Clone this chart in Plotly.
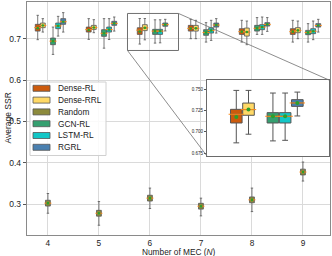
import plotly.graph_objects as go

# ---------------- data ----------------
N_MEC = [4, 5, 6, 7, 8, 9]
SERIES = ["Dense-RL", "Dense-RRL", "Random", "GCN-RL", "LSTM-RL", "RGRL"]

DENSE_RL = dict(
    hi=[0.7565, 0.7485, 0.7488, 0.7468, 0.7444, 0.7444],
    q3=[0.7347, 0.7281, 0.7265, 0.7322, 0.7242, 0.7242],
    med=[0.7267, 0.7220, 0.7207, 0.7250, 0.7170, 0.7170],
    mean=[0.7255, 0.7210, 0.7175, 0.7245, 0.7170, 0.7170],
    q1=[0.7184, 0.7160, 0.7104, 0.7184, 0.7104, 0.7104],
    lo=[0.6976, 0.6983, 0.6870, 0.7000, 0.6918, 0.6918],
)
DENSE_RRL = dict(
    hi=[0.7485, 0.7460, 0.7488, 0.7444, 0.7427, 0.7427],
    q3=[0.7378, 0.7322, 0.7339, 0.7322, 0.7257, 0.7267],
    med=[0.7320, 0.7270, 0.7262, 0.7250, 0.7160, 0.7200],
    mean=[0.7320, 0.7270, 0.7262, 0.7250, 0.7160, 0.7200],
    q1=[0.7267, 0.7225, 0.7195, 0.7184, 0.7063, 0.7145],
    lo=[0.7160, 0.7145, 0.6972, 0.7000, 0.6855, 0.7000],
)
RANDOM = dict(
    hi=[0.3257, 0.3063, 0.3388, 0.3145, 0.3388, 0.4018],
    q3=[0.3094, 0.2850, 0.3215, 0.3020, 0.3174, 0.3846],
    med=[0.3024, 0.2780, 0.3145, 0.2950, 0.3104, 0.3776],
    mean=[0.3024, 0.2780, 0.3145, 0.2950, 0.3104, 0.3776],
    q1=[0.2954, 0.2710, 0.3075, 0.2880, 0.3034, 0.3706],
    lo=[0.2780, 0.2490, 0.2894, 0.2716, 0.2820, 0.3558],
)
GCN_RL = dict(
    hi=[0.7281, 0.7485, 0.7457, 0.7388, 0.7510, 0.7364],
    q3=[0.7015, 0.7218, 0.7226, 0.7218, 0.7322, 0.7201],
    med=[0.6940, 0.7130, 0.7183, 0.7150, 0.7250, 0.7150],
    mean=[0.6940, 0.7130, 0.7183, 0.7150, 0.7250, 0.7150],
    q1=[0.6855, 0.7056, 0.7104, 0.7081, 0.7184, 0.7097],
    lo=[0.6620, 0.6770, 0.6893, 0.6918, 0.7104, 0.6918],
)
LSTM_RL = dict(
    hi=[0.7540, 0.7485, 0.7457, 0.7444, 0.7524, 0.7427],
    q3=[0.7378, 0.7281, 0.7226, 0.7267, 0.7340, 0.7242],
    med=[0.7310, 0.7220, 0.7183, 0.7200, 0.7280, 0.7180],
    mean=[0.7310, 0.7220, 0.7183, 0.7200, 0.7280, 0.7180],
    q1=[0.7242, 0.7160, 0.7104, 0.7136, 0.7218, 0.7121],
    lo=[0.7063, 0.6980, 0.6900, 0.6959, 0.7104, 0.6976],
)
RGRL = dict(
    hi=[0.7630, 0.7524, 0.7468, 0.7485, 0.7510, 0.7468],
    q3=[0.7485, 0.7420, 0.7379, 0.7378, 0.7388, 0.7364],
    med=[0.7410, 0.7370, 0.7340, 0.7330, 0.7345, 0.7320],
    mean=[0.7410, 0.7370, 0.7340, 0.7330, 0.7345, 0.7320],
    q1=[0.7347, 0.7322, 0.7300, 0.7281, 0.7305, 0.7281],
    lo=[0.7160, 0.7184, 0.7187, 0.7136, 0.7177, 0.7160],
)
DATA = [DENSE_RL, DENSE_RRL, RANDOM, GCN_RL, LSTM_RL, RGRL]

Y_TICKS = [0.3, 0.4, 0.5, 0.6, 0.7]
INSET_Y_TICKS = [0.675, 0.700, 0.725, 0.750]

# ---------------- style ----------------
COLORS = ["#cc5a0c", "#ffd966", "#8c8a3c", "#35a070", "#12c6c6", "#4a80b0"]
OFFSETS = [-0.2, -0.1, 0.0, 0.1, 0.2, 0.3]
BOX_W = 0.095
FONT = "Liberation Sans, Arial, sans-serif"
X_RANGE = [3.59, 9.53]
Y_RANGE = [0.2254, 0.7887]
INSET_X = [5.56, 6.56]
INSET_Y = [0.6715, 0.7610]
INSET_DOM_X = [0.594, 0.997]
INSET_DOM_Y = [0.339, 0.665]

W, H = 332, 256
ML, MR, MT, MB = 27, 2, 2, 21
PW, PH = W - ML - MR, H - MT - MB

def px_x(p):
    return (p - ML) / PW

def px_y(p):
    return (MT + PH - p) / PH

fig = go.Figure()

for name, d, col, off in zip(SERIES, DATA, COLORS, OFFSETS):
    xs = [n + off for n in N_MEC]
    for ax, ay, lw, msize, medsize in [("x", "y", 0.8, 2.6, 5), ("x2", "y2", 1.0, 4, 11)]:
        fig.add_trace(go.Box(
            x=xs, q1=d["q1"], median=d["med"], q3=d["q3"],
            lowerfence=d["lo"], upperfence=d["hi"],
            width=BOX_W, whiskerwidth=0.5, boxpoints=False,
            fillcolor=col, line=dict(color="#555555", width=lw),
            name=name, showlegend=False, xaxis=ax, yaxis=ay, hoverinfo="skip",
        ))
        fig.add_trace(go.Scatter(
            x=xs, y=d["med"], mode="markers", xaxis=ax, yaxis=ay,
            marker=dict(symbol="line-ew", size=medsize,
                        line=dict(color="#ff8c1a", width=1)),
            showlegend=False, hoverinfo="skip", cliponaxis=True,
        ))
        fig.add_trace(go.Scatter(
            x=xs, y=d["mean"], mode="markers", xaxis=ax, yaxis=ay,
            marker=dict(symbol="circle", size=msize, color="#2ca02c",
                        line=dict(width=0)),
            showlegend=False, hoverinfo="skip", cliponaxis=True,
        ))

shapes = []
annotations = []

# zoom rectangle on main axes
shapes.append(dict(type="rect", xref="x", yref="y",
                   x0=INSET_X[0], x1=INSET_X[1], y0=INSET_Y[0], y1=INSET_Y[1],
                   line=dict(color="#707070", width=1), fillcolor="rgba(0,0,0,0)"))

def data_to_paper(x, y):
    return ((x - X_RANGE[0]) / (X_RANGE[1] - X_RANGE[0]),
            (y - Y_RANGE[0]) / (Y_RANGE[1] - Y_RANGE[0]))

bl = data_to_paper(INSET_X[0], INSET_Y[0])
tr = data_to_paper(INSET_X[1], INSET_Y[1])
shapes.append(dict(type="line", xref="paper", yref="paper",
                   x0=bl[0], y0=bl[1], x1=INSET_DOM_X[0], y1=INSET_DOM_Y[0],
                   line=dict(color="#707070", width=0.8)))
shapes.append(dict(type="line", xref="paper", yref="paper",
                   x0=tr[0], y0=tr[1], x1=INSET_DOM_X[1], y1=INSET_DOM_Y[1],
                   line=dict(color="#707070", width=0.8)))

# inset white background (drawn in inset subplot layer)
shapes.append(dict(type="rect", xref="x2", yref="y2", layer="below",
                   x0=INSET_X[0], x1=INSET_X[1], y0=INSET_Y[0], y1=INSET_Y[1],
                   line=dict(width=0), fillcolor="white"))

# custom legend
shapes.append(dict(type="rect", xref="paper", yref="paper",
                   x0=px_x(30), x1=px_x(106), y0=px_y(155.5), y1=px_y(82),
                   line=dict(color="#d0d0d0", width=1), fillcolor="rgba(255,255,255,0.85)"))
row0, step = 88.3, 11.8
for i, (name, col) in enumerate(zip(SERIES, COLORS)):
    cy = row0 + i * step
    shapes.append(dict(type="rect", xref="paper", yref="paper",
                       x0=px_x(33), x1=px_x(50), y0=px_y(cy + 3), y1=px_y(cy - 3),
                       line=dict(color="#555555", width=0.8), fillcolor=col))
    annotations.append(dict(xref="paper", yref="paper", x=px_x(56), y=px_y(cy),
                            xanchor="left", yanchor="middle", showarrow=False,
                            text=name, font=dict(size=8.3, color="#222222", family=FONT)))

# axis titles as paper annotations (fixed margins)
annotations.append(dict(xref="paper", yref="paper", x=0.5, y=px_y(251.5),
                        xanchor="center", yanchor="middle", showarrow=False,
                        text="Number of MEC (<i>N</i>)",
                        font=dict(size=8.3, color="#222222", family=FONT)))
annotations.append(dict(xref="paper", yref="paper", x=px_x(7), y=0.5,
                        xanchor="center", yanchor="middle", showarrow=False, textangle=-90,
                        text="Average SSR",
                        font=dict(size=8.5, color="#222222", family=FONT)))

fig.update_layout(
    width=W, height=H,
    margin=dict(l=ML, r=MR, t=MT, b=MB, autoexpand=False),
    paper_bgcolor="white", plot_bgcolor="white",
    boxmode="overlay", showlegend=False,
    font=dict(family=FONT, size=8.5, color="#222222"),
    shapes=shapes, annotations=annotations,
    xaxis=dict(range=X_RANGE, tickvals=N_MEC, ticktext=[str(n) for n in N_MEC],
               automargin=False,
               showgrid=True, gridcolor="#dadada", gridwidth=1, zeroline=False,
               showline=True, mirror=True, linecolor="#8a8a8a", linewidth=1.4,
               ticks="", tickfont=dict(size=8.3)),
    yaxis=dict(range=Y_RANGE, tickvals=Y_TICKS, ticktext=[f"{v:.1f}" for v in Y_TICKS],
               automargin=False,
               showgrid=True, gridcolor="#dadada", gridwidth=1, zeroline=False,
               showline=True, mirror=True, linecolor="#8a8a8a", linewidth=1.4,
               ticks="outside", ticklen=3, tickcolor="#555555", tickwidth=0.8,
               tickfont=dict(size=8.5)),
    xaxis2=dict(domain=INSET_DOM_X, range=INSET_X, anchor="y2", automargin=False,
                showticklabels=False, ticks="", showgrid=False, zeroline=False,
                showline=True, mirror=True, linecolor="#6a6a6a", linewidth=1),
    yaxis2=dict(domain=INSET_DOM_Y, range=INSET_Y, anchor="x2", automargin=False,
                tickvals=INSET_Y_TICKS, ticktext=[f"{v:.3f}" for v in INSET_Y_TICKS],
                tickfont=dict(size=4.5), ticks="outside", ticklen=2, tickwidth=0.6,
                tickcolor="#555555", showgrid=False, zeroline=False,
                showline=True, mirror=True, linecolor="#6a6a6a", linewidth=1),
)

fig.write_html(
    "out.html",
    config={"displayModeBar": False},
    post_script="document.body.style.margin='0';document.body.style.overflow='hidden';",
)
